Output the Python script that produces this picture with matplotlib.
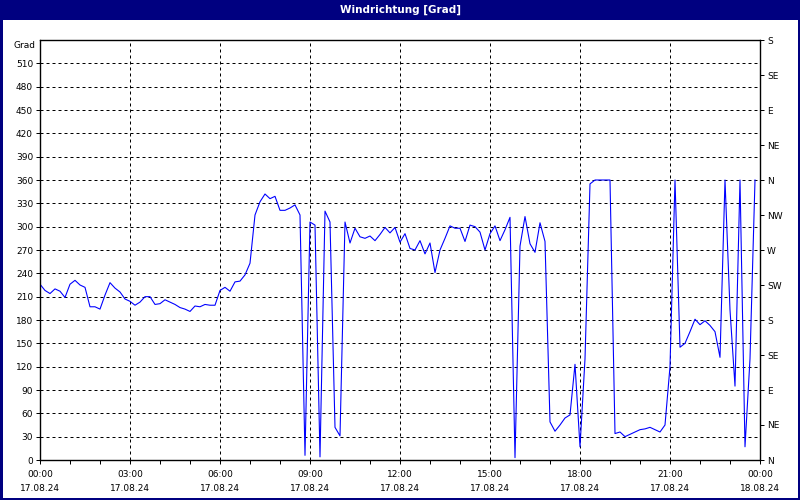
import numpy as np
import pandas as pd
import matplotlib
matplotlib.use("Agg")
import matplotlib.pyplot as plt
import matplotlib.dates as mdates
from matplotlib.patches import Rectangle

# ---- data -------------------------------------------------------------
title = "Windrichtung [Grad]"
start_time = "2024-08-17 00:00"
sample_step = "10min"
direction = [
    226, 218, 214, 220, 217, 209, 226, 231, 225, 222,
    197, 197, 194, 212, 228, 221, 216, 207, 204, 199,
    203, 210, 210, 200, 201, 206, 203, 200, 196, 194,
    191, 198, 197, 200, 199, 199, 218, 222, 217, 229,
    230, 238, 253, 315, 332, 342, 336, 339, 321, 321,
    324, 328, 315, 6, 306, 302, 4, 320, 306, 42,
    31, 306, 279, 298, 287, 285, 288, 282, 290, 299,
    292, 299, 280, 291, 272, 270, 282, 265, 279, 241,
    270, 285, 301, 298, 298, 281, 302, 300, 293, 270,
    291, 301, 282, 296, 312, 3, 275, 313, 278, 267,
    305, 281, 49, 37, 45, 54, 58, 123, 17, 130,
    355, 360, 360, 360, 360, 34, 36, 30, 33, 36,
    39, 40, 42, 39, 36, 45, 120, 360, 145, 150,
    165, 181, 174, 179, 173, 165, 132, 360, 193, 95,
    360, 17, 130, 360,
]
left_ticks = list(range(0, 511, 30))
left_unit = "Grad"
right_ticks = list(range(0, 541, 45))
right_labels = ["N", "NE", "E", "SE", "S", "SW", "W", "NW",
                "N", "NE", "E", "SE", "S"]

times = pd.date_range(start_time, periods=len(direction), freq=sample_step)

# ---- figure -----------------------------------------------------------
W, H = 800, 500
fig = plt.figure(figsize=(W / 100, H / 100), dpi=100, facecolor="white")
navy = "#000080"
px = 0.72  # one pixel in points
fs = 6.5
plt.rcParams["font.family"] = ["DejaVu Sans"]

# title bar
fig.patches.append(Rectangle((0, 1 - 20 / H), 1, 20 / H, transform=fig.transFigure,
                             facecolor=navy, edgecolor="none", zorder=0))
fig.text(0.5, 1 - 10 / H, title, color="white", fontsize=7.5, fontweight="bold",
         ha="center", va="center")
# window border
fig.patches.append(Rectangle((1 / W, 1.5 / H), 1 - 2.5 / W, 1 - 2 / H,
                             transform=fig.transFigure, facecolor="none",
                             edgecolor=navy, linewidth=3 * px, zorder=0))

ax = fig.add_axes([40 / W, 40 / H, 720 / W, 420 / H])
ax.plot(times, direction, color="#0000ff", linewidth=1.1 * px, zorder=3)

x0 = pd.Timestamp(start_time)
x1 = x0 + pd.Timedelta(hours=24)
ax.set_xlim(x0, x1)
ax.set_ylim(0, 540)

ax.xaxis.set_major_locator(mdates.HourLocator(byhour=range(0, 24, 3)))
ax.xaxis.set_minor_locator(mdates.HourLocator())
ax.xaxis.set_major_formatter(mdates.DateFormatter("%H:%M\n%d.%m.%y"))
ax.set_yticks(left_ticks)
ax.set_yticklabels([str(v) for v in left_ticks])

for lab in ax.get_xticklabels():
    lab.set_linespacing(1.75)

ax.tick_params(axis="x", which="major", length=3, width=px, pad=4, labelsize=fs)
ax.tick_params(axis="x", which="minor", length=3, width=px)
ax.tick_params(axis="y", length=3, width=px, pad=2, labelsize=fs)

ax.grid(True, which="major", color="black", linestyle=(0, (3, 3)),
        linewidth=px, zorder=1)
for s in ax.spines.values():
    s.set_linewidth(1.2 * px)
    s.set_color("black")

ax.annotate(left_unit, xy=(0, 540), xycoords=("axes fraction", "data"),
            xytext=(-4 * px, -5 * px), textcoords="offset points",
            ha="right", va="center", fontsize=fs)

ax2 = ax.twinx()
ax2.set_ylim(0, 540)
ax2.set_yticks(right_ticks)
ax2.set_yticklabels(right_labels)
ax2.tick_params(axis="y", length=3, width=px, pad=2, labelsize=fs)
for s in ax2.spines.values():
    s.set_linewidth(1.2 * px)

fig.savefig("out.png", dpi=100, facecolor="white")
